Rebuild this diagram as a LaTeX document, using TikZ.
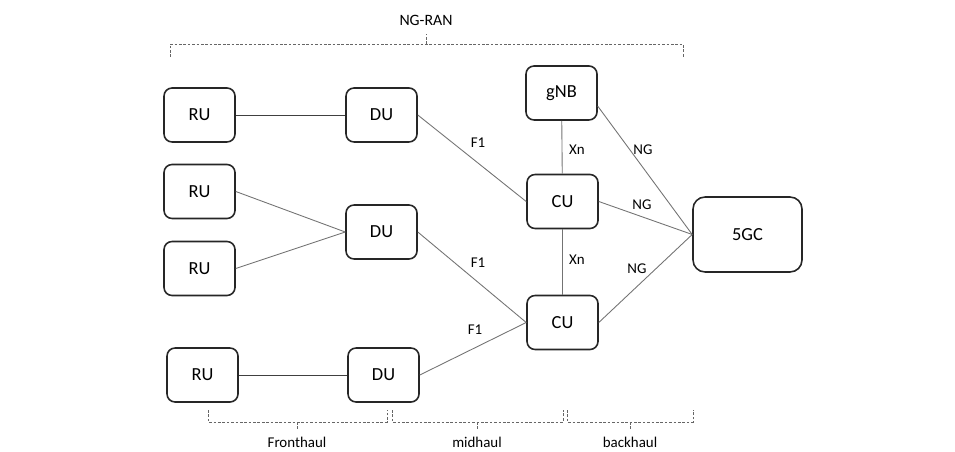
\documentclass[tikz,border=0pt]{standalone}
\usepackage{fontspec}
\setmainfont{Carlito}
\tikzset{
	unit/.style={draw=black!85, line width=0.9pt, rounded corners=0.16cm, minimum width=1.42cm, minimum height=1.08cm, inner sep=0pt, font=\fontsize{10.5}{12}\selectfont},
	core/.style={unit, minimum width=2.18cm, minimum height=1.5cm, rounded corners=0.24cm},
	link/.style={draw=black!55, line width=0.5pt},
	iface/.style={font=\fontsize{8.5}{10}\selectfont, inner sep=1pt},
	span/.style={draw=black!60, dash pattern=on 1.5pt off 1pt, line width=0.45pt},
	spanlabel/.style={font=\fontsize{8.5}{10}\selectfont, inner sep=0pt}
}
\begin{document}
\begin{tikzpicture}[x=0.02cm, y=-0.02cm]
	\useasboundingbox (0,0) rectangle (955,452);
	
	%RU/DU
	\node[unit] (ru1) at (199.5,115) {RU};
	\node[unit] (du1) at (381.5,115) {DU};
	\node[unit] (ru2) at (199.5,191.5) {RU};
	\node[unit] (du2) at (381.5,232) {DU};
	\node[unit] (ru3) at (199.5,268.5) {RU};
	\node[unit] (ru4) at (202.5,375) {RU};
	\node[unit] (du3) at (383.5,375) {DU};
	
	%CU/gNB/Kern
	\node[unit] (gnb) at (561.5,93) {gNB};
	\node[unit] (cu1) at (562.5,201.5) {CU};
	\node[unit] (cu2) at (562.5,322.5) {CU};
	\node[core] (fivegc) at (747.5,234.5) {5GC};
	
	%Verbindungen
	\draw[link, draw=black!75] (ru1) -- (du1);
	\draw[link] (ru2.east) -- (du2.west);
	\draw[link] (ru3.east) -- (du2.west);
	\draw[link, draw=black!75] (ru4) -- (du3);
	\draw[link] (du1.east) -- (cu1.west);
	\draw[link] (du2.east) -- (cu2.west);
	\draw[link] (du3.east) -- (cu2.west);
	\draw[link] (gnb) -- (cu1);
	\draw[link] (cu1) -- (cu2);
	\draw[link] (gnb.-20) -- (fivegc.west);
	\draw[link] (cu1.east) -- (fivegc.west);
	\draw[link] (cu2.east) -- (fivegc.west);
	
	\node[iface] (f1a) at (478,143) {F1};
	\node[iface] (f1b) at (478,263) {F1};
	\node[iface] (f1c) at (475,330) {F1};
	\node[iface] (xna) at (577,150) {Xn};
	\node[iface] (xnb) at (577,260) {Xn};
	\node[iface] (nga) at (643,150) {NG};
	\node[iface] (ngb) at (642,205) {NG};
	\node[iface] (ngc) at (637,269) {NG};
	
	%Klammern
	\draw[span] (170,57) -- (170,44) -- (683,44) -- (683,57);
	\draw[span] (426,44) -- (426,34);
	\node[spanlabel, font=\fontsize{9}{10}\selectfont] (ngran) at (426,20) {NG-RAN};
	
	\foreach \l/\r/\m/\t in {208/387/297/Fronthaul, 392/563/477/midhaul, 567/693/630/backhaul} {
		\draw[span] (\l,410) -- (\l,422) -- (\r,422) -- (\r,410);
		\draw[span] (\m,422) -- (\m,430);
		\node[spanlabel] (lbl\t) at (\m,442) {\t};
	}
\end{tikzpicture}
\end{document}
